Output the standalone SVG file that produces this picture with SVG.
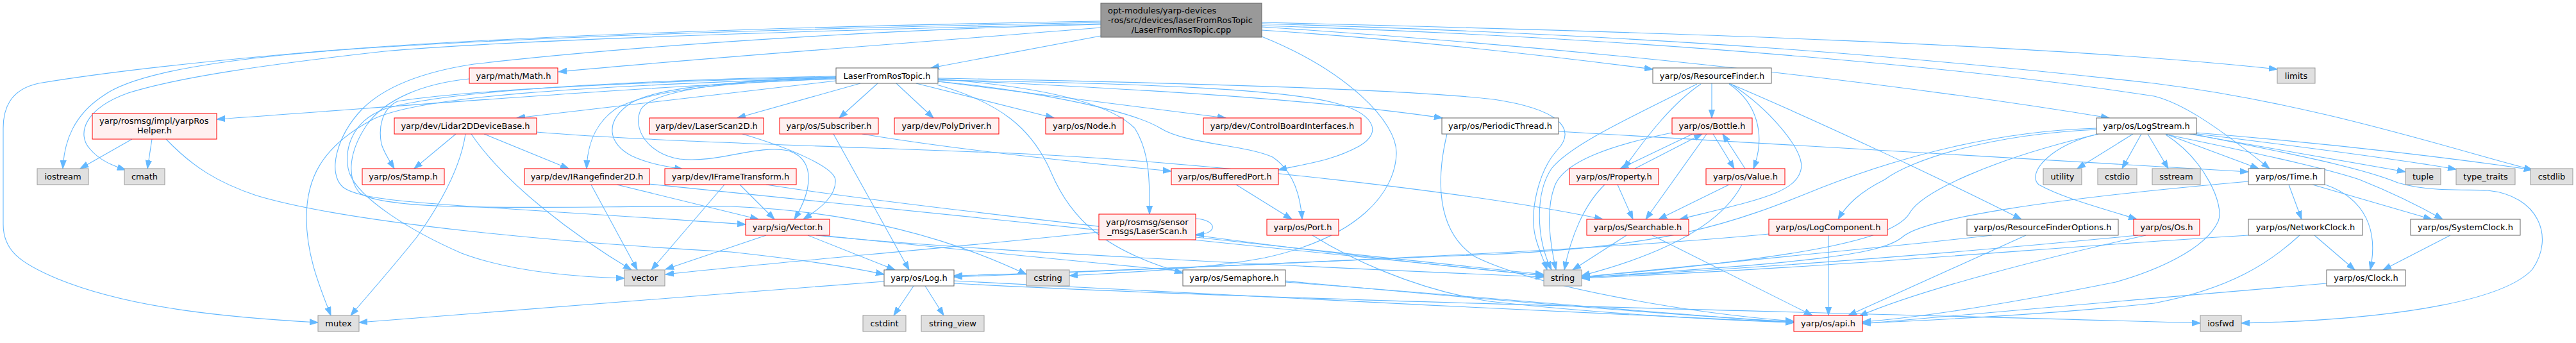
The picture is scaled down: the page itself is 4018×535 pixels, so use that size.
<svg xmlns="http://www.w3.org/2000/svg" width="4018" height="535" viewBox="0 0 4018 535">
<style>
.r rect{fill:#fff0f0;stroke:#ff0000}
.w rect{fill:#ffffff;stroke:#666666}
.g rect{fill:#e0e0e0;stroke:#999999}
.k rect{fill:#999999;stroke:#666666}
text{font-family:"DejaVu Sans","Liberation Sans",sans-serif;font-size:13px;fill:#000;text-anchor:middle}
text.s{text-anchor:start}
#edges path{fill:none;stroke:#63b8ff;stroke-width:1.1;marker-end:url(#ah)}
</style>
<defs>
<marker id="ah" markerWidth="14" markerHeight="10" refX="13" refY="5" orient="auto" markerUnits="userSpaceOnUse">
<path d="M0,0.4 L13,5 L0,9.6 z" fill="#63b8ff" stroke="#63b8ff" stroke-width="1"/>
</marker>
</defs>
<rect width="4018" height="535" fill="#ffffff"/>
<g id="edges">
<path d="M1717,56 L1452,106"/>
<path d="M1717,43 C1450,65 1100,90 871,112"/>
<path d="M1717,38 C1400,45 1000,70 739,100 C660,112 600,135 565,170 C525,212 510,270 535,292 C570,318 700,318 1163,350"/>
<path d="M1717,33 C1300,40 800,55 500,80 C300,97 150,115 60,130 C15,140 5,170 5,200 L5,350 C5,390 30,410 90,435 C200,480 350,495 496,503"/>
<path d="M1717,35 C1300,43 700,60 450,85 C300,100 200,120 160,150 C115,180 100,220 98,263"/>
<path d="M1717,37 C1300,47 800,62 600,80 C420,100 280,120 200,145 C130,170 120,210 140,232 C155,250 175,258 196,265"/>
<path d="M1968,47 C2200,62 2400,85 2578,108"/>
<path d="M1968,42 C2400,70 2900,120 3290,184"/>
<path d="M1968,35 C2600,50 3200,70 3552,108"/>
<path d="M1968,37 C2600,55 3000,90 3360,130 C3600,160 3800,225 3950,265"/>
<path d="M1968,40 C2600,60 3100,110 3360,150 C3400,160 3450,190 3540,263"/>
<path d="M1968,57 C2100,110 2180,190 2178,240 C2176,300 2120,370 1973,402 C1880,420 1750,425 1668,430"/>
<path d="M1304,126 L806,184"/>
<path d="M1304,123 C1000,135 700,160 338,186"/>
<path d="M1304,121 C900,135 650,150 580,187 C500,230 478,280 478,340 C478,400 500,450 516,492"/>
<path d="M1304,120 C900,130 700,145 620,158 C595,170 590,200 595,225 C600,240 607,250 615,263"/>
<path d="M1304,119 C1000,125 700,140 600,170 C545,190 535,240 545,270 C560,310 640,360 720,395 C800,425 900,432 974,434"/>
<path d="M1304,123 C1150,127 1010,140 960,170 C925,195 916,230 915,263"/>
<path d="M1304,122 C1150,126 1030,135 985,160 C940,190 950,225 985,243 C1010,255 1040,260 1065,264"/>
<path d="M1304,120 C1150,124 1020,140 1000,170 C985,200 1010,240 1060,248 C1120,255 1180,225 1230,235 C1275,250 1265,300 1239,342"/>
<path d="M1342,130 L1150,184"/>
<path d="M1369,130 L1309,184"/>
<path d="M1398,130 L1456,184"/>
<path d="M1429,130 L1644,184"/>
<path d="M1463,127 L1912,184"/>
<path d="M1463,124 C1800,140 2050,155 2250,184"/>
<path d="M1463,122 C1900,130 2200,140 2330,155 C2430,170 2460,200 2430,233 C2400,265 2385,330 2395,370 C2400,390 2408,405 2413,421"/>
<path d="M1463,125 C1800,130 2000,140 2080,160 C2140,175 2160,205 2120,228 C2080,250 2040,255 1994,265"/>
<path d="M1463,127 C1600,140 1760,170 1810,200 C1850,225 1940,225 1985,245 C2015,265 2028,300 2031,342"/>
<path d="M1463,123 C1620,135 1730,160 1770,200 C1795,240 1793,290 1793,334"/>
<path d="M1461,132 C1560,160 1610,200 1640,270 C1670,340 1720,390 1845,426"/>
<path d="M732,123 C660,130 600,155 572,195 C545,235 540,275 560,300 C600,335 900,320 1140,322 C1350,330 1500,380 1601,428"/>
<path d="M711,209 L646,263"/>
<path d="M726,209 C720,250 700,300 650,370 C610,420 570,465 547,492"/>
<path d="M755,209 L887,263"/>
<path d="M735,209 C790,290 900,370 985,421"/>
<path d="M837,206 C1000,220 1300,228 1600,240 C1900,255 2300,300 2500,342"/>
<path d="M206,217 L125,263"/>
<path d="M237,217 L230,263"/>
<path d="M259,217 C300,260 340,285 400,305 C550,350 900,380 1140,393 C1250,405 1320,415 1379,428"/>
<path d="M1158,209 C1230,230 1300,260 1303,280 C1305,305 1280,325 1253,342"/>
<path d="M1345,209 C1500,235 1700,255 1827,267"/>
<path d="M1300,209 L1418,421"/>
<path d="M962,288 L1183,342"/>
<path d="M922,288 L994,421"/>
<path d="M1012,287 C1200,310 1800,370 2408,430"/>
<path d="M1154,288 L1208,342"/>
<path d="M1130,288 L1016,421"/>
<path d="M1195,288 C1400,320 1900,375 2408,428"/>
<path d="M1195,367 L1038,420"/>
<path d="M1260,367 L1396,421"/>
<path d="M1273,367 C1500,390 2000,415 2408,432"/>
<path d="M1280,367 C1600,400 2400,480 2798,502"/>
<path d="M1928,288 L2015,342"/>
<path d="M2047,367 C2100,400 2200,450 2323,470 C2500,490 2700,500 2798,503"/>
<path d="M1865,341 C1900,343 1900,366 1865,366"/>
<path d="M1714,362 C1500,385 1200,410 1038,428"/>
<path d="M1865,367 C2000,385 2200,410 2408,430"/>
<path d="M1425,446 L1394,492"/>
<path d="M1443,446 L1472,492"/>
<path d="M1379,439 C1100,460 800,485 560,503"/>
<path d="M1488,438 C1800,455 2400,485 2798,503"/>
<path d="M1488,442 C2000,470 2900,488 3432,504"/>
<path d="M2005,440 C2300,462 2600,490 2798,503"/>
<path d="M2431,205 C2900,230 3300,255 3507,268"/>
<path d="M2257,209 C2240,280 2240,360 2300,400 C2400,450 2650,490 2798,501"/>
<path d="M2670,130 L2670,184"/>
<path d="M2653,131 C2610,160 2570,210 2533,263"/>
<path d="M2647,131 C2550,180 2450,225 2420,263 C2395,300 2395,370 2420,421"/>
<path d="M2697,131 C2740,160 2755,210 2735,263"/>
<path d="M2700,131 C2760,170 2810,230 2810,260 C2805,300 2750,310 2620,342"/>
<path d="M2697,130 C2850,195 3050,290 3153,342"/>
<path d="M2640,209 L2527,263"/>
<path d="M2550,263 L2655,209"/>
<path d="M2672,209 L2705,263"/>
<path d="M2722,263 L2687,209"/>
<path d="M2662,209 L2567,342"/>
<path d="M2608,207 C2520,225 2440,250 2425,290 C2410,330 2418,380 2427,421"/>
<path d="M2523,288 L2547,342"/>
<path d="M2503,288 C2470,320 2450,370 2440,421"/>
<path d="M2697,288 L2587,342"/>
<path d="M2717,288 C2690,340 2620,390 2467,430"/>
<path d="M2537,367 L2453,421"/>
<path d="M2577,367 L2827,492"/>
<path d="M3327,209 L3240,263"/>
<path d="M3340,209 L3310,263"/>
<path d="M3350,209 L3382,263"/>
<path d="M3378,209 L3523,263"/>
<path d="M3415,209 L3752,268"/>
<path d="M3420,208 C3600,230 3750,250 3831,264"/>
<path d="M3426,207 C3650,225 3850,250 3950,265"/>
<path d="M3380,210 C3500,235 3620,260 3680,280 C3730,300 3780,325 3810,342"/>
<path d="M3420,209 C3550,235 3680,260 3740,285 C3790,300 3850,295 3880,297 C3960,305 3985,370 3950,420 C3900,475 3700,500 3496,504"/>
<path d="M3273,209 C3200,225 3160,270 3180,288 C3220,310 3280,325 3333,342"/>
<path d="M3270,202 C3100,210 2980,250 2940,280 C2900,300 2880,320 2867,342"/>
<path d="M3270,200 C3100,205 2950,250 2840,293 C2700,350 2600,385 2320,397 C2000,410 1700,425 1488,430"/>
<path d="M3273,209 C3100,250 3000,300 2980,330 C2960,370 2840,400 2467,432"/>
<path d="M3378,210 C3440,250 3470,320 3460,345 C3440,390 3360,423 3300,440 C3150,470 3000,495 2905,502"/>
<path d="M3570,288 L3590,342"/>
<path d="M3627,288 C3690,310 3710,360 3697,421"/>
<path d="M3607,288 L3793,342"/>
<path d="M3507,283 C3200,310 3000,340 2967,370 C2930,400 2800,410 2467,433"/>
<path d="M3610,367 L3673,421"/>
<path d="M3507,367 C3200,385 2900,415 2467,434"/>
<path d="M3587,367 C3540,410 3480,450 3360,473 C3200,490 3000,500 2905,504"/>
<path d="M3822,367 L3717,421"/>
<path d="M3629,442 C3400,460 3100,490 2905,505"/>
<path d="M2852,367 L2852,492"/>
<path d="M2759,365 C2500,390 2000,412 1488,432"/>
<path d="M3160,367 L2883,492"/>
<path d="M3107,367 C2900,390 2700,410 2467,432"/>
<path d="M3347,367 C3200,400 3000,450 2900,493"/>
<path d="M3335,367 C3100,390 2800,415 2467,433"/>
</g>
<g id="n0" class="k"><rect x="1717" y="5" width="251" height="53"/><text class="s" x="1728" y="20.5">opt-modules/yarp-devices</text><text class="s" x="1728" y="35.5">-ros/src/devices/laserFromRosTopic</text><text x="1842.5" y="50.5">/LaserFromRosTopic.cpp</text></g>
<g id="n1" class="w"><rect x="1304" y="106" width="159" height="24"/><text x="1383.5" y="122.5">LaserFromRosTopic.h</text></g>
<g id="n2" class="r"><rect x="732" y="106" width="138" height="24"/><text x="801" y="122.5">yarp/math/Math.h</text></g>
<g id="n3" class="w"><rect x="2578" y="106" width="185" height="24"/><text x="2670.5" y="122.5">yarp/os/ResourceFinder.h</text></g>
<g id="n4" class="g"><rect x="3552" y="106" width="59" height="24"/><text x="3581.5" y="122.5">limits</text></g>
<g id="n5" class="r"><rect x="144" y="177" width="194" height="40"/><text class="s" x="155" y="193">yarp/rosmsg/impl/yarpRos</text><text x="241" y="207.5">Helper.h</text></g>
<g id="n6" class="r"><rect x="615" y="184" width="222" height="25"/><text x="726" y="201">yarp/dev/Lidar2DDeviceBase.h</text></g>
<g id="n7" class="r"><rect x="1013" y="184" width="178" height="25"/><text x="1102" y="201">yarp/dev/LaserScan2D.h</text></g>
<g id="n8" class="r"><rect x="1216" y="184" width="154" height="25"/><text x="1293" y="201">yarp/os/Subscriber.h</text></g>
<g id="n9" class="r"><rect x="1395" y="184" width="163" height="25"/><text x="1476.5" y="201">yarp/dev/PolyDriver.h</text></g>
<g id="n10" class="r"><rect x="1631" y="184" width="121" height="25"/><text x="1691.5" y="201">yarp/os/Node.h</text></g>
<g id="n11" class="r"><rect x="1877" y="184" width="246" height="25"/><text x="2000" y="201">yarp/dev/ControlBoardInterfaces.h</text></g>
<g id="n12" class="w"><rect x="2249" y="184" width="182" height="25"/><text x="2340" y="201">yarp/os/PeriodicThread.h</text></g>
<g id="n13" class="r"><rect x="2608" y="184" width="125" height="25"/><text x="2670.5" y="201">yarp/os/Bottle.h</text></g>
<g id="n14" class="w"><rect x="3270" y="184" width="156" height="25"/><text x="3348" y="201">yarp/os/LogStream.h</text></g>
<g id="n15" class="g"><rect x="58" y="263" width="80" height="25"/><text x="98" y="280">iostream</text></g>
<g id="n16" class="g"><rect x="194" y="263" width="63" height="25"/><text x="225.5" y="280">cmath</text></g>
<g id="n17" class="r"><rect x="565" y="263" width="128" height="25"/><text x="629" y="280">yarp/os/Stamp.h</text></g>
<g id="n18" class="r"><rect x="818" y="263" width="195" height="25"/><text x="915.5" y="280">yarp/dev/IRangefinder2D.h</text></g>
<g id="n19" class="r"><rect x="1037" y="263" width="205" height="25"/><text x="1139.5" y="280">yarp/dev/IFrameTransform.h</text></g>
<g id="n20" class="r"><rect x="1827" y="263" width="167" height="25"/><text x="1910.5" y="280">yarp/os/BufferedPort.h</text></g>
<g id="n21" class="r"><rect x="2448" y="263" width="139" height="25"/><text x="2517.5" y="280">yarp/os/Property.h</text></g>
<g id="n22" class="r"><rect x="2661" y="263" width="123" height="25"/><text x="2722.5" y="280">yarp/os/Value.h</text></g>
<g id="n23" class="g"><rect x="3187" y="263" width="60" height="25"/><text x="3217" y="280">utility</text></g>
<g id="n24" class="g"><rect x="3272" y="263" width="61" height="25"/><text x="3302.5" y="280">cstdio</text></g>
<g id="n25" class="g"><rect x="3357" y="263" width="75" height="25"/><text x="3394.5" y="280">sstream</text></g>
<g id="n26" class="w"><rect x="3507" y="263" width="119" height="25"/><text x="3566.5" y="280">yarp/os/Time.h</text></g>
<g id="n27" class="g"><rect x="3752" y="263" width="55" height="25"/><text x="3779.5" y="280">tuple</text></g>
<g id="n28" class="g"><rect x="3831" y="263" width="92" height="25"/><text x="3877" y="280">type_traits</text></g>
<g id="n29" class="g"><rect x="3947" y="263" width="66" height="25"/><text x="3980" y="280">cstdlib</text></g>
<g id="n30" class="r"><rect x="1714" y="334" width="151" height="40"/><text class="s" x="1725" y="351">yarp/rosmsg/sensor</text><text x="1789.5" y="365">_msgs/LaserScan.h</text></g>
<g id="n31" class="r"><rect x="1163" y="342" width="131" height="25"/><text x="1228.5" y="359">yarp/sig/Vector.h</text></g>
<g id="n32" class="r"><rect x="1976" y="342" width="112" height="25"/><text x="2032" y="359">yarp/os/Port.h</text></g>
<g id="n33" class="r"><rect x="2475" y="342" width="159" height="25"/><text x="2554.5" y="359">yarp/os/Searchable.h</text></g>
<g id="n34" class="r"><rect x="2759" y="342" width="185" height="25"/><text x="2851.5" y="359">yarp/os/LogComponent.h</text></g>
<g id="n35" class="w"><rect x="3068" y="342" width="236" height="25"/><text x="3186" y="359">yarp/os/ResourceFinderOptions.h</text></g>
<g id="n36" class="r"><rect x="3328" y="342" width="103" height="25"/><text x="3379.5" y="359">yarp/os/Os.h</text></g>
<g id="n37" class="w"><rect x="3507" y="342" width="178" height="25"/><text x="3596" y="359">yarp/os/NetworkClock.h</text></g>
<g id="n38" class="w"><rect x="3760" y="342" width="171" height="25"/><text x="3845.5" y="359">yarp/os/SystemClock.h</text></g>
<g id="n39" class="g"><rect x="974" y="421" width="63" height="25"/><text x="1005.5" y="438">vector</text></g>
<g id="n40" class="w"><rect x="1379" y="421" width="109" height="25"/><text x="1433.5" y="438">yarp/os/Log.h</text></g>
<g id="n41" class="g"><rect x="1601" y="421" width="67" height="25"/><text x="1634.5" y="438">cstring</text></g>
<g id="n42" class="w"><rect x="1845" y="421" width="160" height="25"/><text x="1925" y="438">yarp/os/Semaphore.h</text></g>
<g id="n43" class="g"><rect x="2408" y="421" width="59" height="25"/><text x="2437.5" y="438">string</text></g>
<g id="n44" class="w"><rect x="3629" y="421" width="123" height="25"/><text x="3690.5" y="438">yarp/os/Clock.h</text></g>
<g id="n45" class="g"><rect x="496" y="492" width="64" height="25"/><text x="528" y="509">mutex</text></g>
<g id="n46" class="g"><rect x="1346" y="492" width="67" height="25"/><text x="1379.5" y="509">cstdint</text></g>
<g id="n47" class="g"><rect x="1437" y="492" width="98" height="25"/><text x="1486" y="509">string_view</text></g>
<g id="n48" class="r"><rect x="2798" y="492" width="107" height="25"/><text x="2851.5" y="509">yarp/os/api.h</text></g>
<g id="n49" class="g"><rect x="3432" y="492" width="64" height="25"/><text x="3464" y="509">iosfwd</text></g>
</svg>
